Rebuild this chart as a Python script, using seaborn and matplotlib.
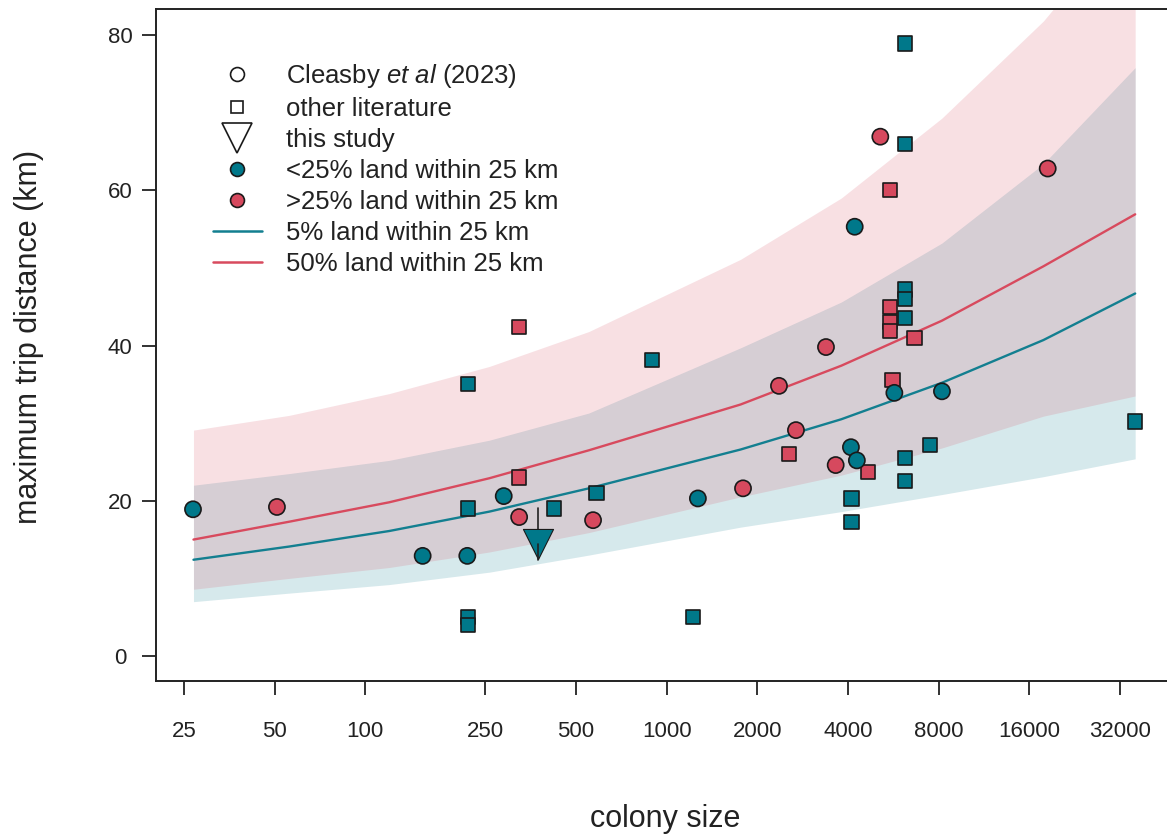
import numpy as np
import pandas as pd
import matplotlib
matplotlib.use("Agg")
import matplotlib.pyplot as plt
import seaborn as sns
from matplotlib.lines import Line2D

# ---- data ----
# Cleasby et al (2023) colonies (circles)
cl_teal_size = [26.8, 155, 218, 288, 1270, 4210, 4090, 4280, 5700, 8200]
cl_teal_dist = [18.9, 12.9, 12.9, 20.6, 20.3, 55.3, 26.9, 25.2, 33.9, 34.1]
cl_red_size = [50.9, 324, 570, 1793, 2360, 2687, 3380, 3640, 5120, 18400]
cl_red_dist = [19.2, 17.9, 17.5, 21.6, 34.8, 29.1, 39.8, 24.6, 66.9, 62.8]

# other literature (squares)
lit_teal_size = [219, 219, 219, 219, 422, 585, 893, 1224, 4110, 4110,
                 6200, 6200, 6200, 6200, 6200, 6200, 6200, 7500, 35800]
lit_teal_dist = [35.0, 19.0, 5.0, 4.0, 19.0, 21.0, 38.1, 5.0, 20.3, 17.3,
                 78.9, 66.0, 47.2, 46.0, 43.5, 25.5, 22.5, 27.2, 30.2]
lit_red_size = [324, 324, 2545, 4650, 5500, 5500, 5500, 5500, 5620, 6650]
lit_red_dist = [42.4, 23.0, 26.0, 23.7, 60.0, 45.0, 43.0, 41.9, 35.6, 41.0]

# this study
study_size = [375]
study_dist = [14.4]
study_arrow_top = 19.1

# model predictions (lines) and prediction intervals (bands)
pred_size = [26.9, 55.9, 120, 258, 552, 1760, 3800, 8200, 17800, 35900]
line_5pct = [12.4, 14.1, 16.1, 18.6, 21.6, 26.6, 30.5, 35.2, 40.7, 46.7]
line_50pct = [15.0, 17.3, 19.8, 22.9, 26.5, 32.4, 37.4, 43.2, 50.2, 56.9]
band_5_lo = [7.0, 8.1, 9.2, 10.8, 13.0, 16.6, 18.6, 20.8, 23.1, 25.4]
band_5_hi = [22.0, 23.5, 25.2, 27.8, 31.3, 39.7, 45.6, 53.2, 63.4, 75.8]
band_50_lo = [8.6, 10.0, 11.4, 13.4, 15.9, 20.5, 23.3, 26.8, 30.9, 33.5]
band_50_hi = [29.1, 31.0, 33.8, 37.3, 41.8, 51.1, 59.0, 69.3, 81.8, 96.0]

xticks = [25, 50, 100, 250, 500, 1000, 2000, 4000, 8000, 16000, 32000]
yticks = [0, 20, 40, 60, 80]

teal = "#00788a"
red = "#d6495e"
teal_line = "#137f90"
red_line = "#d84a5e"
ink = "#1a1a1a"

sns.set_theme(style="ticks")
plt.rcParams["font.family"] = ["Liberation Sans", "DejaVu Sans"]
plt.rcParams["mathtext.fontset"] = "custom"
plt.rcParams["mathtext.rm"] = "Liberation Sans"
plt.rcParams["mathtext.it"] = "Liberation Sans:italic"

fig = plt.figure(figsize=(11.67, 8.35), dpi=100)
# plot box runs a little past the right edge of the picture, like the original crop
ax = fig.add_axes([156 / 1167, 1 - 681 / 835, 1018 / 1167, 672 / 835])

# bands
ax.fill_between(pred_size, band_5_lo, band_5_hi, color=teal, alpha=0.16, lw=0, zorder=1)
ax.fill_between(pred_size, band_50_lo, band_50_hi, color=red, alpha=0.17, lw=0, zorder=1)

lines = pd.DataFrame({
    "size": pred_size * 2,
    "dist": line_5pct + line_50pct,
    "grp": ["5%"] * len(pred_size) + ["50%"] * len(pred_size),
})
sns.lineplot(data=lines, x="size", y="dist", hue="grp",
             palette={"5%": teal_line, "50%": red_line}, lw=1.7,
             legend=False, ax=ax, zorder=2)

# points
sq = pd.DataFrame({
    "size": lit_teal_size + lit_red_size,
    "dist": lit_teal_dist + lit_red_dist,
    "land": ["lo"] * len(lit_teal_size) + ["hi"] * len(lit_red_size),
})
ci = pd.DataFrame({
    "size": cl_teal_size + cl_red_size,
    "dist": cl_teal_dist + cl_red_dist,
    "land": ["lo"] * len(cl_teal_size) + ["hi"] * len(cl_red_size),
})
pal = {"lo": teal, "hi": red}
sns.scatterplot(data=sq, x="size", y="dist", hue="land", palette=pal, marker="s",
                s=105, edgecolor=ink, linewidth=1.2, legend=False, ax=ax, zorder=3)
sns.scatterplot(data=ci, x="size", y="dist", hue="land", palette=pal, marker="o",
                s=135, edgecolor=ink, linewidth=1.2, legend=False, ax=ax, zorder=3)

ax.plot([study_size[0], study_size[0]], [study_arrow_top, study_dist[0]],
        color="#222222", lw=1.2, zorder=4)
ax.scatter(study_size, study_dist, marker="v", s=470, color=teal,
           edgecolor=ink, linewidth=0.8, zorder=4)
ax.plot([study_size[0], study_size[0]], [study_dist[0], study_dist[0] - 2.0],
        color="#222222", lw=1.2, zorder=5)

ax.set_xscale("log")
ax.set_xlim(20.2, 48300)
ax.set_ylim(-3.22, 83.35)
ax.set_xticks(xticks)
ax.set_xticklabels([str(t) for t in xticks])
ax.minorticks_off()
ax.set_yticks(yticks)
ax.set_yticklabels([str(t) for t in yticks], ha="center")

for sp in ax.spines.values():
    sp.set_visible(True)
    sp.set_linewidth(1.4)
    sp.set_color("#222222")
ax.tick_params(axis="x", direction="out", length=10, width=1.3, pad=19,
               labelsize=16, color="#222222", labelcolor="#222222")
ax.tick_params(axis="y", direction="out", length=10, width=1.3, pad=16,
               labelsize=16, color="#222222", labelcolor="#222222")

ax.set_xlabel("colony size", fontsize=22, color="#222222")
ax.set_ylabel("maximum trip distance (km)", fontsize=22, color="#222222")
ax.xaxis.set_label_coords(0.5, -0.183)
ax.yaxis.set_label_coords(-0.11, 0.512)

handles = [
    Line2D([], [], ls="", marker="o", ms=10, mfc="white", mec=ink, mew=1.2),
    Line2D([], [], ls="", marker="s", ms=8.5, mfc="white", mec=ink, mew=1.2),
    Line2D([], [], ls="", marker="v", ms=21, mfc="white", mec=ink, mew=1.2),
    Line2D([], [], ls="", marker="o", ms=10, mfc=teal, mec=ink, mew=1.2),
    Line2D([], [], ls="", marker="o", ms=10, mfc=red, mec=ink, mew=1.2),
    Line2D([], [], color=teal_line, lw=1.8),
    Line2D([], [], color=red_line, lw=1.8),
]
labels = [
    r"Cleasby $\it{et\ al}$ (2023)",
    "other literature",
    "this study",
    "<25% land within 25 km",
    ">25% land within 25 km",
    "5% land within 25 km",
    "50% land within 25 km",
]
leg = ax.legend(handles, labels, loc="upper left",
                bbox_to_anchor=(213 / 1167, 773 / 835), bbox_transform=fig.transFigure,
                frameon=False, fontsize=18.5, handlelength=1.9, handletextpad=0.93,
                labelspacing=0.27, borderpad=0, borderaxespad=0)
for t in leg.get_texts():
    t.set_color("#222222")

fig.savefig("out.png", dpi=100)
